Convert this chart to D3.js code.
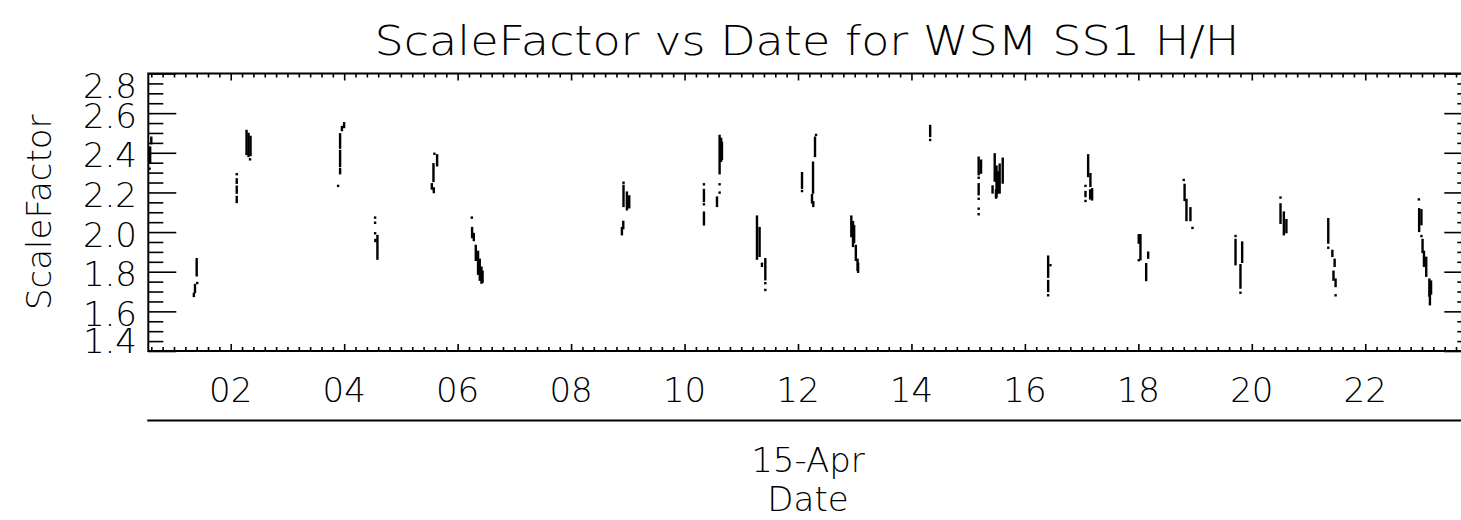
<!DOCTYPE html>
<html>
<head>
<meta charset="utf-8">
<script src="https://cdn.jsdelivr.net/npm/d3@7"></script>
<style>
  html, body { margin: 0; padding: 0; background: #fff; }
  svg text { font-family: "DejaVu Sans", sans-serif; font-weight: 200; fill: #000; }
</style>
</head>
<body>
<script>
// ---- data (day of April, high value, low value) for each short vertical run of samples ----
const titleText = "ScaleFactor vs Date for WSM SS1 H/H";
const yTitle = "ScaleFactor";
const xTitle = "Date";
const xSubLabel = "15-Apr";
const xDomain = [0.547, 23.887];
const yDomain = [1.4, 2.8];
const dayTicks = [2, 4, 6, 8, 10, 12, 14, 16, 18, 20, 22];
const dayLabels = ["02", "04", "06", "08", "10", "12", "14", "16", "18", "20", "22"];
const valueTicks = [1.4, 1.6, 1.8, 2.0, 2.2, 2.4, 2.6, 2.8];
const valueLabels = ["1.4", "1.6", "1.8", "2.0", "2.2", "2.4", "2.6", "2.8"];

const runsEarly = [
  [0.60, 2.476, 2.448], [0.58, 2.426, 2.350], [0.57, 2.320, 2.320],
  [1.40, 1.863, 1.782], [1.41, 1.743, 1.743], [1.37, 1.733, 1.698], [1.35, 1.688, 1.678],
  [2.106, 2.292, 2.292], [2.106, 2.266, 2.249], [2.106, 2.229, 2.199], [2.106, 2.177, 2.152],
  [2.279, 2.510, 2.394], [2.314, 2.495, 2.384], [2.349, 2.480, 2.389], [2.340, 2.367, 2.367],
  [3.999, 2.549, 2.530], [3.960, 2.530, 2.515], [3.928, 2.493, 2.426], [3.928, 2.409, 2.333],
  [3.928, 2.317, 2.297], [3.893, 2.233, 2.233],
  [4.545, 2.073, 2.073], [4.545, 2.047, 2.047], [4.545, 1.994, 1.994], [4.586, 1.980, 1.866],
  [4.550, 1.960, 1.955],
  [5.591, 2.395, 2.395], [5.638, 2.387, 2.337], [5.574, 2.342, 2.258], [5.545, 2.241, 2.220],
  [5.580, 2.220, 2.202],
  [6.250, 2.073, 2.073], [6.255, 2.020, 1.975], [6.285, 1.990, 1.960], [6.320, 1.930, 1.860],
  [6.360, 1.900, 1.790], [6.390, 1.860, 1.760], [6.420, 1.820, 1.745], [6.440, 1.800, 1.750]
];
const runsMiddle = [
  [8.924, 2.249, 2.249], [8.924, 2.233, 2.132], [8.984, 2.199, 2.115], [9.025, 2.180, 2.125],
  [8.920, 2.051, 2.020], [8.896, 2.020, 1.989],
  [10.342, 2.241, 2.241], [10.342, 2.212, 2.157], [10.342, 2.140, 2.140], [10.342, 2.098, 2.039],
  [10.618, 2.485, 2.297], [10.645, 2.470, 2.360], [10.660, 2.450, 2.370], [10.618, 2.241, 2.241],
  [10.618, 2.199, 2.199], [10.572, 2.174, 2.132],
  [11.277, 2.078, 1.866], [11.323, 2.020, 1.880], [11.365, 1.840, 1.830], [11.424, 1.863, 1.762],
  [11.424, 1.742, 1.742], [11.424, 1.708, 1.708],
  [12.318, 2.490, 2.490], [12.300, 2.476, 2.384], [12.265, 2.350, 2.199], [12.247, 2.186, 2.150],
  [12.270, 2.150, 2.132], [12.071, 2.297, 2.224], [12.071, 2.207, 2.207],
  [12.940, 2.078, 1.980], [12.970, 2.050, 1.930], [12.990, 2.030, 1.950], [13.020, 1.930, 1.860],
  [13.050, 1.860, 1.810], [13.060, 1.840, 1.800],
  [14.330, 2.535, 2.485], [14.330, 2.465, 2.465]
];
const runsLate = [
  [15.185, 2.375, 2.292], [15.227, 2.360, 2.300], [15.185, 2.274, 2.274], [15.185, 2.241, 2.191],
  [15.185, 2.168, 2.168], [15.185, 2.118, 2.118], [15.185, 2.090, 2.090],
  [15.468, 2.392, 2.260], [15.500, 2.330, 2.180], [15.530, 2.300, 2.200], [15.555, 2.340, 2.200],
  [15.609, 2.370, 2.250], [15.430, 2.230, 2.200], [15.490, 2.210, 2.174],
  [16.410, 1.876, 1.775], [16.450, 1.833, 1.833], [16.410, 1.753, 1.703], [16.410, 1.681, 1.681],
  [17.115, 2.387, 2.283], [17.155, 2.292, 2.233], [17.068, 2.233, 2.233], [17.068, 2.202, 2.182],
  [17.068, 2.157, 2.157], [17.185, 2.216, 2.165], [17.150, 2.210, 2.170],
  [18.007, 1.984, 1.947], [18.037, 1.984, 1.863], [18.007, 1.858, 1.858], [18.173, 1.896, 1.871],
  [18.138, 1.838, 1.758],
  [18.800, 2.263, 2.263], [18.815, 2.238, 2.162], [18.848, 2.162, 2.061], [18.918, 2.120, 2.061],
  [18.954, 2.021, 2.021],
  [19.713, 1.980, 1.980], [19.713, 1.960, 1.838], [19.830, 1.947, 1.850], [19.800, 1.833, 1.720],
  [19.800, 1.694, 1.694],
  [20.506, 2.174, 2.174], [20.506, 2.140, 2.047], [20.565, 2.098, 1.989], [20.610, 2.060, 2.000],
  [21.348, 2.065, 1.947], [21.348, 1.921, 1.921], [21.420, 1.905, 1.880], [21.460, 1.860, 1.830],
  [21.440, 1.800, 1.760], [21.477, 1.760, 1.728], [21.477, 1.681, 1.681],
  [22.945, 2.165, 2.165], [22.950, 2.115, 2.006], [22.990, 2.110, 2.040], [22.990, 1.980, 1.980],
  [23.010, 1.960, 1.900], [23.035, 1.900, 1.830], [23.075, 1.870, 1.780], [23.130, 1.760, 1.680],
  [23.160, 1.750, 1.690], [23.140, 1.700, 1.636]
];
const runs = runsEarly.concat(runsMiddle, runsLate);

// ---- layout ----
const W = 1461, H = 520;
const plot = { left: 148.3, right: 1472.3, top: 73.5, bottom: 351 };

const svg = d3.select("body").append("svg")
  .attr("width", W).attr("height", H)
  .style("display", "block");
svg.append("rect").attr("width", W).attr("height", H).attr("fill", "#fff");

const x = d3.scaleLinear().domain(xDomain).range([plot.left, plot.right]);
const y = d3.scaleLinear().domain(yDomain).range([plot.bottom, plot.top]);

// minor tick values
const xMinor = d3.range(Math.ceil(xDomain[0] / 0.2) * 0.2, xDomain[1], 0.2)
  .filter(v => Math.abs(v / 2 - Math.round(v / 2)) > 1e-6);
const yMinor = d3.range(1.4, 2.8001, 0.05)
  .filter(v => Math.abs(v / 0.2 - Math.round(v / 0.2)) > 1e-6);

function styleAxis(g) {
  g.selectAll("path.domain").remove();
  g.selectAll("line").attr("stroke", "#000").attr("stroke-width", 1.6);
  g.selectAll("text").remove();
}

// x ticks (bottom, top)
svg.append("g").attr("transform", `translate(0,${plot.bottom})`)
  .call(d3.axisBottom(x).tickValues(dayTicks).tickSize(-7).tickSizeOuter(0)).call(styleAxis);
svg.append("g").attr("transform", `translate(0,${plot.bottom})`)
  .call(d3.axisBottom(x).tickValues(xMinor).tickSize(-4).tickSizeOuter(0)).call(styleAxis);
svg.append("g").attr("transform", `translate(0,${plot.top})`)
  .call(d3.axisTop(x).tickValues(dayTicks).tickSize(-7).tickSizeOuter(0)).call(styleAxis);
svg.append("g").attr("transform", `translate(0,${plot.top})`)
  .call(d3.axisTop(x).tickValues(xMinor).tickSize(-4).tickSizeOuter(0)).call(styleAxis);

// y ticks (left, right)
svg.append("g").attr("transform", `translate(${plot.left},0)`)
  .call(d3.axisLeft(y).tickValues(valueTicks).tickSize(-28).tickSizeOuter(0)).call(styleAxis);
svg.append("g").attr("transform", `translate(${plot.left},0)`)
  .call(d3.axisLeft(y).tickValues(yMinor).tickSize(-15).tickSizeOuter(0)).call(styleAxis);
svg.append("g").attr("transform", `translate(${plot.right},0)`)
  .call(d3.axisRight(y).tickValues(valueTicks).tickSize(-28).tickSizeOuter(0)).call(styleAxis);
svg.append("g").attr("transform", `translate(${plot.right},0)`)
  .call(d3.axisRight(y).tickValues(yMinor).tickSize(-15).tickSizeOuter(0)).call(styleAxis);

// frame
svg.append("rect")
  .attr("x", plot.left).attr("y", plot.top)
  .attr("width", plot.right - plot.left).attr("height", plot.bottom - plot.top)
  .attr("fill", "none").attr("stroke", "#000").attr("stroke-width", 2);

// second-level date axis line
svg.append("line")
  .attr("x1", plot.left - 1).attr("x2", plot.right)
  .attr("y1", 420.5).attr("y2", 420.5)
  .attr("stroke", "#000").attr("stroke-width", 2);

// data runs
svg.append("g").selectAll("rect.run").data(runs).join("rect")
  .attr("class", "run")
  .attr("x", d => x(d[0]) - 1.2)
  .attr("width", 2.4)
  .attr("y", d => y(d[1]) - 1.2)
  .attr("height", d => Math.max(2.4, y(d[2]) - y(d[1]) + 2.4))
  .attr("fill", "#000");

// x tick labels
svg.append("g").selectAll("text").data(dayTicks).join("text")
  .attr("x", d => x(d))
  .attr("y", 401.5)
  .attr("text-anchor", "middle")
  .attr("font-size", 34)
  .text((d, i) => dayLabels[i]);

// y tick labels (kept inside the axis span like the original)
svg.append("g").selectAll("text").data(valueTicks).join("text")
  .attr("x", 137)
  .attr("y", d => Math.min(Math.max(y(d) + 2, plot.top + 12), plot.bottom - 11) + 12.5)
  .attr("text-anchor", "end")
  .attr("font-size", 34)
  .text((d, i) => valueLabels[i]);

// titles
const cx = (plot.left + plot.right) / 2;
svg.append("text")
  .attr("x", 807).attr("y", 55)
  .attr("text-anchor", "middle")
  .attr("font-size", 41)
  .attr("textLength", 865).attr("lengthAdjust", "spacingAndGlyphs")
  .text(titleText);

svg.append("text")
  .attr("transform", `translate(51,${(plot.top + plot.bottom) / 2}) rotate(-90)`)
  .attr("text-anchor", "middle")
  .attr("font-size", 34)
  .text(yTitle);

svg.append("text")
  .attr("x", 808).attr("y", 472)
  .attr("text-anchor", "middle")
  .attr("font-size", 34)
  .text(xSubLabel);

svg.append("text")
  .attr("x", 808).attr("y", 511)
  .attr("text-anchor", "middle")
  .attr("font-size", 34)
  .text(xTitle);
</script>
</body>
</html>
